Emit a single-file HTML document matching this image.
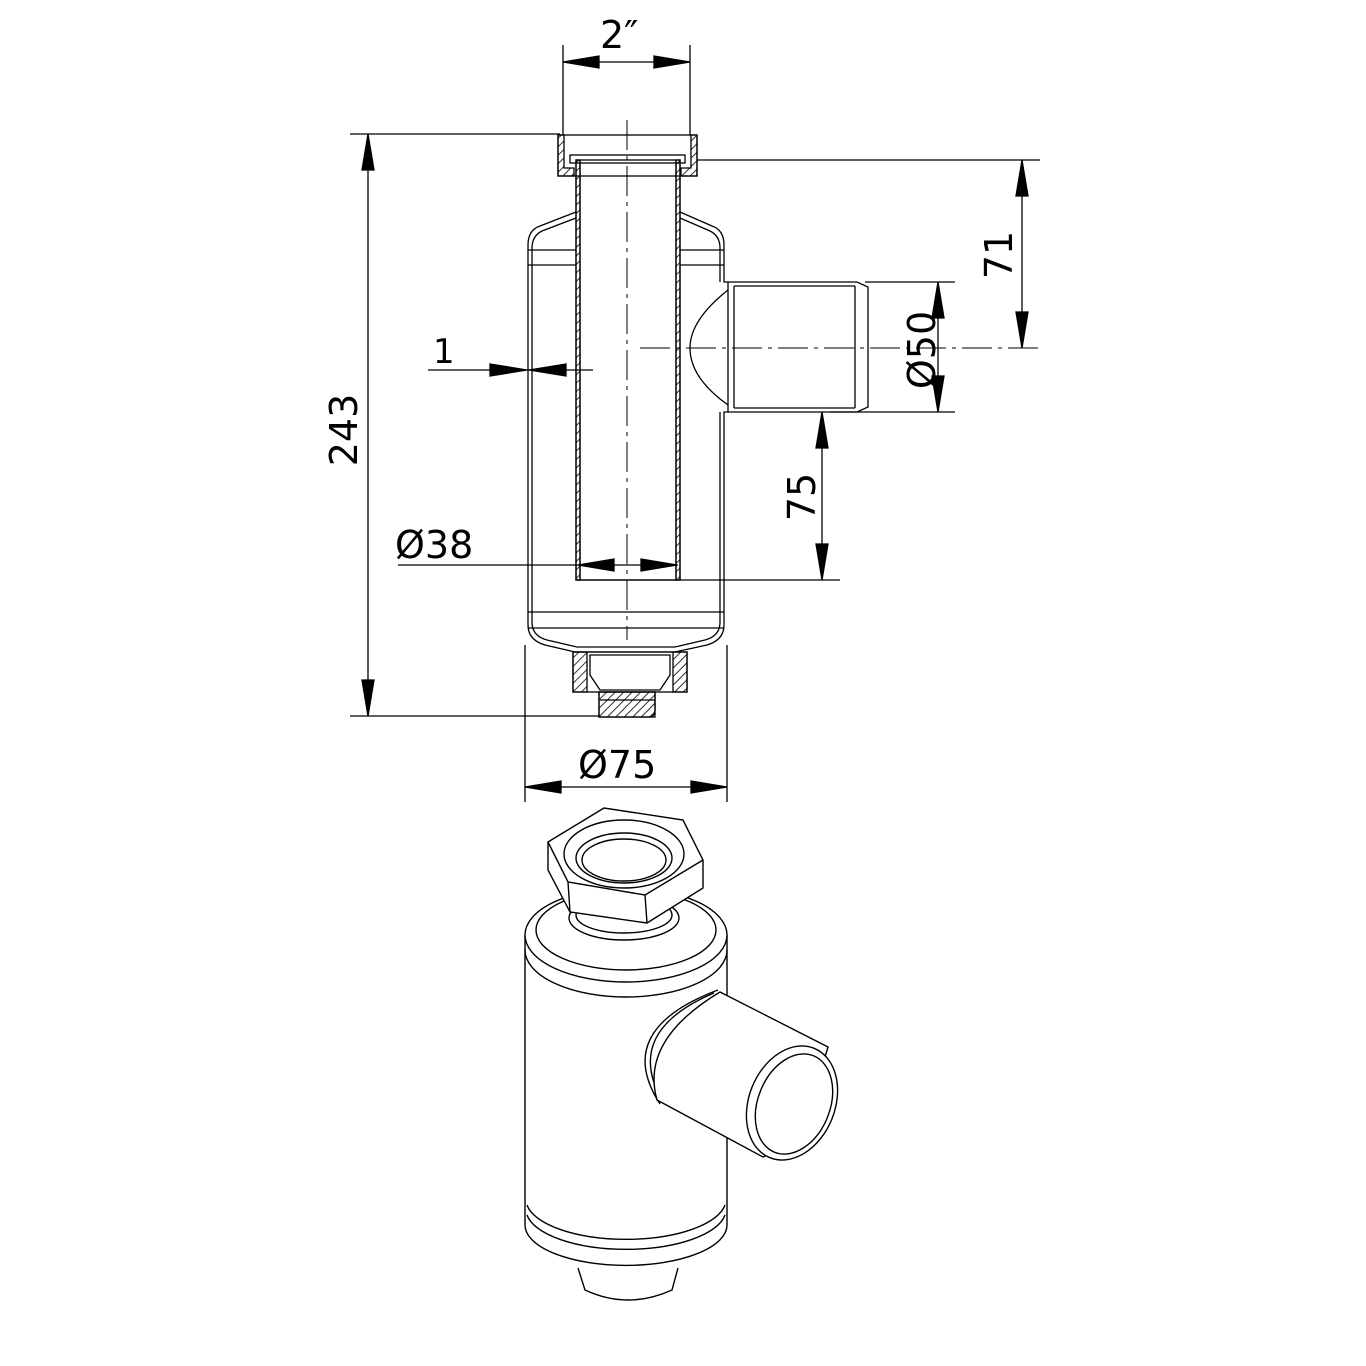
<!DOCTYPE html>
<html><head><meta charset="utf-8"><style>html,body{margin:0;padding:0;background:#fff}svg{display:block}</style></head>
<body>
<svg width="1366" height="1366" viewBox="0 0 1366 1366" xmlns="http://www.w3.org/2000/svg" font-family="'DejaVu Sans','Liberation Sans',sans-serif">
<defs>
<pattern id="h" width="6" height="6" patternUnits="userSpaceOnUse" patternTransform="rotate(45)"><line x1="0" y1="0" x2="0" y2="6" stroke="#000" stroke-width="1.6"/></pattern>
</defs>
<g stroke="#000" fill="none" stroke-width="1.3">
<line x1="563" y1="45" x2="563" y2="135"/><line x1="690" y1="45" x2="690" y2="135"/>
<line x1="563" y1="62" x2="690" y2="62"/>
<path d="M563,62l36,-6v12z M690,62l-36,-6v12z" fill="#000"/>
<line x1="350" y1="134" x2="560" y2="134"/><line x1="350" y1="716" x2="600" y2="716"/>
<line x1="368" y1="134" x2="368" y2="716"/>
<path d="M368,134l-6,36h12z M368,716l-6,-36h12z" fill="#000"/>
<line x1="697" y1="160" x2="1040" y2="160"/>
<line x1="1022" y1="160" x2="1022" y2="348"/>
<path d="M1022,160l-6,36h12z M1022,348l-6,-36h12z" fill="#000"/>
<line x1="640" y1="348" x2="1040" y2="348" stroke-dasharray="30,6,4,6" stroke-width="1"/>
<line x1="865" y1="282" x2="955" y2="282"/><line x1="830" y1="412" x2="955" y2="412"/>
<line x1="938" y1="282" x2="938" y2="412"/>
<path d="M938,282l-6,36h12z M938,412l-6,-36h12z" fill="#000"/>
<line x1="822" y1="412" x2="822" y2="580"/>
<line x1="577" y1="580" x2="840" y2="580"/>
<path d="M822,412l-6,36h12z M822,580l-6,-36h12z" fill="#000"/>
<line x1="428" y1="370" x2="593" y2="370"/>
<path d="M527,370l-37,-6v12z M529,370l37,-6v12z" fill="#000"/>
<line x1="398" y1="565" x2="678" y2="565"/>
<path d="M578,565l36,-6v12z M677,565l-36,-6v12z" fill="#000"/>
<line x1="525" y1="645" x2="525" y2="802"/><line x1="727" y1="645" x2="727" y2="802"/>
<line x1="525" y1="787" x2="727" y2="787"/>
<path d="M525,787l36,-6v12z M727,787l-36,-6v12z" fill="#000"/>
<line x1="627" y1="120" x2="627" y2="640" stroke-dasharray="30,6,4,6" stroke-width="1"/>

<path d="M558,135h6v33h10v8h-16z" fill="url(#h)"/>
<path d="M697,135h-6v33h-10v8h16z" fill="url(#h)"/>
<rect x="558" y="135" width="139" height="41"/>
<rect x="570" y="155" width="115" height="8"/>
<rect x="576" y="160" width="4" height="420" fill="url(#h)"/>
<rect x="676" y="160" width="4" height="420" fill="url(#h)"/>
<rect x="576" y="160" width="104" height="420"/>
<line x1="580" y1="160" x2="580" y2="580"/><line x1="676" y1="160" x2="676" y2="580"/>
<path d="M576,212 L540,226 Q528,230 528,245 L528,625 Q528,640 545,645 L575,652 L675,652 L707,645 Q724,640 724,625 L724,545 L724,412 L728,412 L728,282 L724,282 L724,245 Q724,230 712,226 L680,212"/>
<path d="M576,218 L542,231 Q532,236 532,248 L532,622 Q532,636 547,640 L577,647 L675,647 L705,640 Q720,636 720,622 L720,412 M720,282 L720,248 Q720,236 710,231 L680,218"/>
<line x1="528" y1="250" x2="576" y2="250"/><line x1="528" y1="265" x2="576" y2="265"/>
<line x1="680" y1="250" x2="724" y2="250"/><line x1="680" y1="265" x2="724" y2="265"/>
<line x1="528" y1="612" x2="724" y2="612"/><line x1="528" y1="628" x2="724" y2="628"/>
<path d="M728,282 L857,282 L868,287 L868,407 L857,412 L728,412"/>
<path d="M734,286 L855,286 M734,408 L855,408 M855,286 L855,408"/>
<path d="M728,290 Q690,320 690,348 Q690,378 728,405"/>
<line x1="734" y1="286" x2="734" y2="408"/>
<path d="M573,652h14v40h-14z" fill="url(#h)"/><path d="M687,652h-14v40h14z" fill="url(#h)"/>
<rect x="573" y="652" width="114" height="40"/>
<path d="M590,655 H670 V675 L660,690 H600 L590,675z"/>
<path d="M599,692 H655 V710 Q655,717 648,717 H599z" fill="url(#h)"/>
<rect x="599" y="692" width="56" height="25"/>
<line x1="600" y1="700" x2="655" y2="700"/>
</g>
<g font-size="38" fill="#000">
<text x="600" y="48">2″</text>
<text x="433" y="363" font-size="34">1</text>
<text x="395" y="558">Ø38</text>
<text x="578" y="778">Ø75</text>
<text transform="translate(357,430) rotate(-90)" text-anchor="middle">243</text>
<text transform="translate(1012,255) rotate(-90)" text-anchor="middle">71</text>
<text transform="translate(935,350) rotate(-90)" text-anchor="middle">Ø50</text>
<text transform="translate(815,497) rotate(-90)" text-anchor="middle">75</text>
</g>

<g stroke="#000" fill="#fff" stroke-width="1.4">
<path d="M525,935 L525,1225 A100,40 0 0 0 727,1225 L727,935"/>
<ellipse cx="626" cy="935" rx="101" ry="47"/>
<ellipse cx="626" cy="930" rx="90" ry="40" fill="none"/>
<path d="M525,950 A101,47 0 0 0 727,950" fill="none"/>
<path d="M527,1205 A100,40 0 0 0 725,1205" fill="none"/>
<path d="M527,1215 A100,40 0 0 0 725,1215" fill="none"/>
<path d="M578,1268 L585,1290 Q628,1310 672,1290 L678,1268"/>
<ellipse cx="624" cy="918" rx="55" ry="22"/>
<ellipse cx="624" cy="915" rx="48" ry="18" fill="none"/>
<path d="M548,842 L604,808 L683,820 L703,860 L703,888 L647,923 L570,912 L548,870z"/>
<path d="M548,842 L568,882 L645,895 L703,860 M568,882 L570,912 M645,895 L647,923" fill="none"/>
<ellipse cx="624" cy="854" rx="60" ry="34" fill="none"/>
<ellipse cx="624" cy="858" rx="48" ry="25"/>
<ellipse cx="624" cy="860" rx="42" ry="21" fill="none"/>
<!-- side pipe -->
<path d="M718,990 Q612,1030 660,1104 L700,1104 L700,990z" stroke="none"/>
<path d="M718,990 Q612,1030 660,1104" fill="none"/>
<path d="M714,993 Q622,1032 663,1102" fill="none"/>
<path d="M720,992 L828,1047 L800,1140 L763,1157 L657,1100 Q640,1040 720,992z"/>
<ellipse cx="792" cy="1103" rx="43" ry="59" transform="rotate(22 792 1103)"/>
<ellipse cx="794" cy="1104" rx="36" ry="52" transform="rotate(22 794 1104)" fill="none"/>
</g>
</svg>
</body></html>
